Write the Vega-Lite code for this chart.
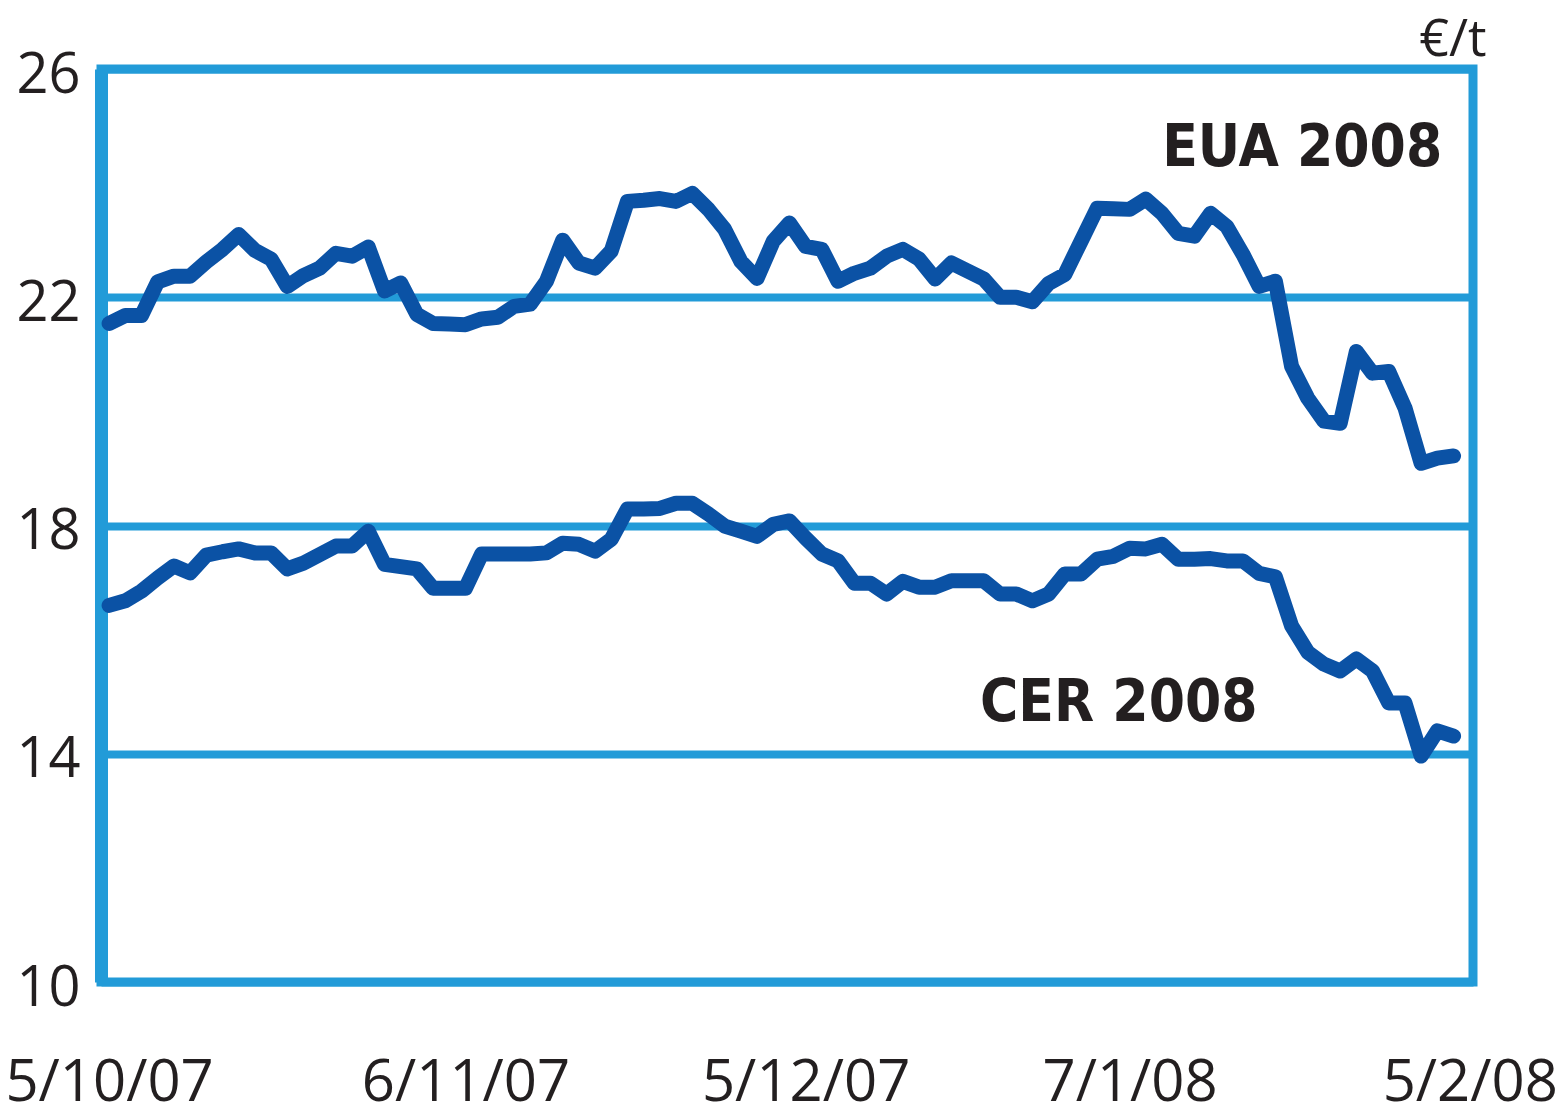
{
  "$schema": "https://vega.github.io/schema/vega-lite/v6.json",
  "width": 1372,
  "height": 913,
  "autosize": "none",
  "padding": {"left": 101, "top": 69, "right": 95, "bottom": 131},
  "background": "white",
  "config": {
    "view": {"stroke": "#229bd8", "strokeWidth": 9},
    "font": "Open Sans"
  },
  "data": {
    "values": [
      {"day": 0, "date": "2007-10-05", "EUA": 21.54, "CER": 16.60},
      {"day": 1, "date": "2007-10-08", "EUA": 21.68, "CER": 16.68},
      {"day": 2, "date": "2007-10-09", "EUA": 21.68, "CER": 16.85},
      {"day": 3, "date": "2007-10-10", "EUA": 22.27, "CER": 17.08},
      {"day": 4, "date": "2007-10-11", "EUA": 22.37, "CER": 17.29},
      {"day": 5, "date": "2007-10-12", "EUA": 22.37, "CER": 17.17},
      {"day": 6, "date": "2007-10-15", "EUA": 22.62, "CER": 17.48},
      {"day": 7, "date": "2007-10-16", "EUA": 22.84, "CER": 17.54},
      {"day": 8, "date": "2007-10-17", "EUA": 23.10, "CER": 17.59},
      {"day": 9, "date": "2007-10-18", "EUA": 22.82, "CER": 17.52},
      {"day": 10, "date": "2007-10-19", "EUA": 22.67, "CER": 17.52},
      {"day": 11, "date": "2007-10-22", "EUA": 22.19, "CER": 17.24},
      {"day": 12, "date": "2007-10-23", "EUA": 22.38, "CER": 17.34},
      {"day": 13, "date": "2007-10-24", "EUA": 22.51, "CER": 17.49},
      {"day": 14, "date": "2007-10-25", "EUA": 22.77, "CER": 17.64},
      {"day": 15, "date": "2007-10-26", "EUA": 22.72, "CER": 17.64},
      {"day": 16, "date": "2007-10-29", "EUA": 22.88, "CER": 17.90},
      {"day": 17, "date": "2007-10-30", "EUA": 22.11, "CER": 17.32},
      {"day": 18, "date": "2007-10-31", "EUA": 22.25, "CER": 17.28},
      {"day": 19, "date": "2007-11-01", "EUA": 21.70, "CER": 17.24},
      {"day": 20, "date": "2007-11-02", "EUA": 21.54, "CER": 16.90},
      {"day": 21, "date": "2007-11-05", "EUA": 21.53, "CER": 16.90},
      {"day": 22, "date": "2007-11-06", "EUA": 21.52, "CER": 16.90},
      {"day": 23, "date": "2007-11-07", "EUA": 21.62, "CER": 17.50},
      {"day": 24, "date": "2007-11-08", "EUA": 21.65, "CER": 17.50},
      {"day": 25, "date": "2007-11-09", "EUA": 21.84, "CER": 17.50},
      {"day": 26, "date": "2007-11-12", "EUA": 21.88, "CER": 17.50},
      {"day": 27, "date": "2007-11-13", "EUA": 22.28, "CER": 17.52},
      {"day": 28, "date": "2007-11-14", "EUA": 23.00, "CER": 17.69},
      {"day": 29, "date": "2007-11-15", "EUA": 22.60, "CER": 17.67},
      {"day": 30, "date": "2007-11-16", "EUA": 22.51, "CER": 17.55},
      {"day": 31, "date": "2007-11-19", "EUA": 22.81, "CER": 17.76},
      {"day": 32, "date": "2007-11-20", "EUA": 23.68, "CER": 18.29},
      {"day": 33, "date": "2007-11-21", "EUA": 23.70, "CER": 18.29},
      {"day": 34, "date": "2007-11-22", "EUA": 23.73, "CER": 18.30},
      {"day": 35, "date": "2007-11-23", "EUA": 23.68, "CER": 18.39},
      {"day": 36, "date": "2007-11-26", "EUA": 23.82, "CER": 18.39},
      {"day": 37, "date": "2007-11-27", "EUA": 23.54, "CER": 18.20},
      {"day": 38, "date": "2007-11-28", "EUA": 23.19, "CER": 17.99},
      {"day": 39, "date": "2007-11-29", "EUA": 22.63, "CER": 17.90},
      {"day": 40, "date": "2007-11-30", "EUA": 22.33, "CER": 17.81},
      {"day": 41, "date": "2007-12-03", "EUA": 22.98, "CER": 18.02},
      {"day": 42, "date": "2007-12-04", "EUA": 23.30, "CER": 18.08},
      {"day": 43, "date": "2007-12-05", "EUA": 22.89, "CER": 17.78},
      {"day": 44, "date": "2007-12-06", "EUA": 22.84, "CER": 17.50},
      {"day": 45, "date": "2007-12-07", "EUA": 22.28, "CER": 17.38},
      {"day": 46, "date": "2007-12-10", "EUA": 22.42, "CER": 16.99},
      {"day": 47, "date": "2007-12-11", "EUA": 22.51, "CER": 16.99},
      {"day": 48, "date": "2007-12-12", "EUA": 22.72, "CER": 16.80},
      {"day": 49, "date": "2007-12-13", "EUA": 22.84, "CER": 17.02},
      {"day": 50, "date": "2007-12-14", "EUA": 22.67, "CER": 16.92},
      {"day": 51, "date": "2007-12-17", "EUA": 22.32, "CER": 16.92},
      {"day": 52, "date": "2007-12-18", "EUA": 22.60, "CER": 17.03},
      {"day": 53, "date": "2007-12-19", "EUA": 22.46, "CER": 17.03},
      {"day": 54, "date": "2007-12-20", "EUA": 22.32, "CER": 17.03},
      {"day": 55, "date": "2007-12-21", "EUA": 22.00, "CER": 16.80},
      {"day": 56, "date": "2007-12-24", "EUA": 22.00, "CER": 16.80},
      {"day": 57, "date": "2007-12-27", "EUA": 21.92, "CER": 16.68},
      {"day": 58, "date": "2007-12-28", "EUA": 22.24, "CER": 16.80},
      {"day": 59, "date": "2007-12-31", "EUA": 22.40, "CER": 17.15},
      {"day": 60, "date": "2008-01-02", "EUA": 22.98, "CER": 17.15},
      {"day": 61, "date": "2008-01-03", "EUA": 23.56, "CER": 17.41},
      {"day": 62, "date": "2008-01-04", "EUA": 23.55, "CER": 17.46},
      {"day": 63, "date": "2008-01-07", "EUA": 23.54, "CER": 17.60},
      {"day": 64, "date": "2008-01-08", "EUA": 23.72, "CER": 17.59},
      {"day": 65, "date": "2008-01-09", "EUA": 23.47, "CER": 17.67},
      {"day": 66, "date": "2008-01-10", "EUA": 23.12, "CER": 17.41},
      {"day": 67, "date": "2008-01-11", "EUA": 23.07, "CER": 17.41},
      {"day": 68, "date": "2008-01-14", "EUA": 23.47, "CER": 17.42},
      {"day": 69, "date": "2008-01-15", "EUA": 23.24, "CER": 17.38},
      {"day": 70, "date": "2008-01-16", "EUA": 22.75, "CER": 17.38},
      {"day": 71, "date": "2008-01-17", "EUA": 22.19, "CER": 17.16},
      {"day": 72, "date": "2008-01-18", "EUA": 22.28, "CER": 17.10},
      {"day": 73, "date": "2008-01-21", "EUA": 20.79, "CER": 16.24},
      {"day": 74, "date": "2008-01-22", "EUA": 20.23, "CER": 15.78},
      {"day": 75, "date": "2008-01-23", "EUA": 19.83, "CER": 15.57},
      {"day": 76, "date": "2008-01-24", "EUA": 19.79, "CER": 15.45},
      {"day": 77, "date": "2008-01-25", "EUA": 21.05, "CER": 15.66},
      {"day": 78, "date": "2008-01-28", "EUA": 20.67, "CER": 15.45},
      {"day": 79, "date": "2008-01-29", "EUA": 20.70, "CER": 14.89},
      {"day": 80, "date": "2008-01-30", "EUA": 20.06, "CER": 14.89},
      {"day": 81, "date": "2008-01-31", "EUA": 19.09, "CER": 13.96},
      {"day": 82, "date": "2008-02-01", "EUA": 19.18, "CER": 14.40},
      {"day": 83, "date": "2008-02-04", "EUA": 19.22, "CER": 14.31}
    ]
  },
  "layer": [
    {
      "transform": [{"fold": ["EUA", "CER"], "as": ["series", "price"]}],
      "mark": {"type": "line", "color": "#0b52a5", "strokeWidth": 15, "strokeCap": "round", "strokeJoin": "round"},
      "encoding": {
        "x": {
          "field": "day",
          "type": "quantitative",
          "scale": {"domain": [-0.5, 84.2], "nice": false, "zero": false},
          "axis": {
            "values": [0, 22, 43, 63, 84],
            "labelExpr": "datum.value == 0 ? '5/10/07' : datum.value == 22 ? '6/11/07' : datum.value == 43 ? '5/12/07' : datum.value == 63 ? '7/1/08' : '5/2/08'",
            "title": null,
            "domain": false,
            "ticks": false,
            "grid": false,
            "labelFont": "Open Sans",
            "labelFontSize": 58,
            "labelColor": "#231f20",
            "labelPadding": 72,
            "labelLimit": 1000,
            "labelFlush": false,
            "labelOverlap": false
          }
        },
        "y": {
          "field": "price",
          "type": "quantitative",
          "scale": {"domain": [10, 26], "nice": false, "zero": false},
          "axis": {
            "values": [10, 14, 18, 22, 26],
            "format": "d",
            "title": "€/t",
            "titleAngle": 0,
            "titleAlign": "right",
            "titleBaseline": "alphabetic",
            "titleX": 1385,
            "titleY": -14,
            "titleFont": "Open Sans",
            "titleFontSize": 52,
            "titleFontWeight": "normal",
            "titleColor": "#231f20",
            "domain": true,
            "domainColor": "#229bd8",
            "domainWidth": 13,
            "ticks": false,
            "grid": true,
            "gridColor": "#229bd8",
            "gridWidth": 8,
            "gridOpacity": 1,
            "labelFont": "Open Sans",
            "labelFontSize": 56,
            "labelColor": "#231f20",
            "labelPadding": 21,
            "labelOffset": 6,
            "labelLimit": 1000,
            "labelOverlap": false
          }
        },
        "detail": {"field": "series", "type": "nominal"}
      }
    },
    {
      "data": {"values": [{"label": "EUA 2008"}]},
      "mark": {"type": "text", "align": "right", "baseline": "alphabetic", "font": "DejaVu Sans Condensed", "fontWeight": "bold", "fontSize": 58, "color": "#231f20"},
      "encoding": {
        "text": {"field": "label"},
        "x": {"datum": 82.3, "type": "quantitative"},
        "y": {"datum": 24.3, "type": "quantitative"}
      }
    },
    {
      "data": {"values": [{"label": "CER 2008"}]},
      "mark": {"type": "text", "align": "right", "baseline": "alphabetic", "font": "DejaVu Sans Condensed", "fontWeight": "bold", "fontSize": 58, "color": "#231f20"},
      "encoding": {
        "text": {"field": "label"},
        "x": {"datum": 70.9, "type": "quantitative"},
        "y": {"datum": 14.57, "type": "quantitative"}
      }
    }
  ]
}
